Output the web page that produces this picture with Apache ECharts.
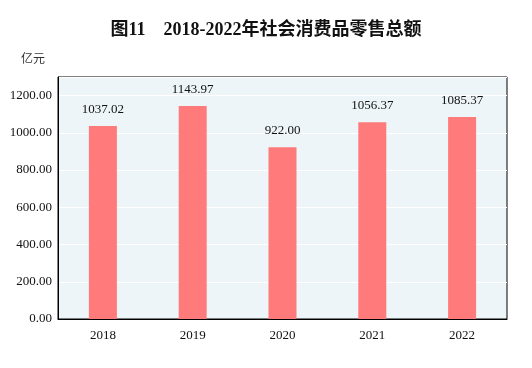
<!DOCTYPE html>
<html><head><meta charset="utf-8">
<script src="https://cdn.jsdelivr.net/npm/echarts@6/dist/echarts.min.js"></script>
<style>html,body{margin:0;padding:0;background:#fff}#c{width:532px;height:368px}</style>
</head><body><div id="c"></div>
<script>
var categories = ['2018', '2019', '2020', '2021', '2022'];
var values = [1037.02, 1143.97, 922.00, 1056.37, 1085.37];
var chart = echarts.init(document.getElementById('c'));
chart.setOption({
  animation: false,
  title: {
    text: '图11　2018-2022年社会消费品零售总额',
    left: 'center', top: 16,
    textStyle: {fontFamily: '"Liberation Serif", "Noto Sans CJK SC", serif', fontSize: 18, fontWeight: 'bold', color: '#111'}
  },
  grid: {left: 58, right: 25, top: 77, bottom: 49, show: true, backgroundColor: '#EDF5F8', borderColor: '#000', borderWidth: 1},
  xAxis: {
    type: 'category', data: categories,
    axisLine: {lineStyle: {color: '#000'}},
    axisTick: {show: false},
    axisLabel: {fontFamily: 'Liberation Serif', fontSize: 13, color: '#111', margin: 10}
  },
  yAxis: {
    type: 'value', min: 0, max: 1300, interval: 200,
    name: '亿元', nameLocation: 'end', nameGap: 13,
    nameTextStyle: {fontFamily: '"Noto Sans CJK SC"', fontSize: 12, color: '#333', align: 'right', padding: [0, 13, 0, 0]},
    axisLine: {show: true, lineStyle: {color: '#000'}},
    axisTick: {show: false},
    axisLabel: {fontFamily: 'Liberation Serif', fontSize: 13, color: '#111', showMaxLabel: false, margin: 6,
      formatter: function (v) { return v.toFixed(2); }},
    splitLine: {lineStyle: {color: '#fff', width: 1}}
  },
  series: [{
    type: 'bar', data: values, barWidth: 28,
    itemStyle: {color: '#FF7B7B'},
    label: {show: true, position: 'top', distance: 10, fontFamily: 'Liberation Serif', fontSize: 13, color: '#111',
      formatter: function (p) { return p.value.toFixed(2); }}
  }]
});
</script></body></html>
